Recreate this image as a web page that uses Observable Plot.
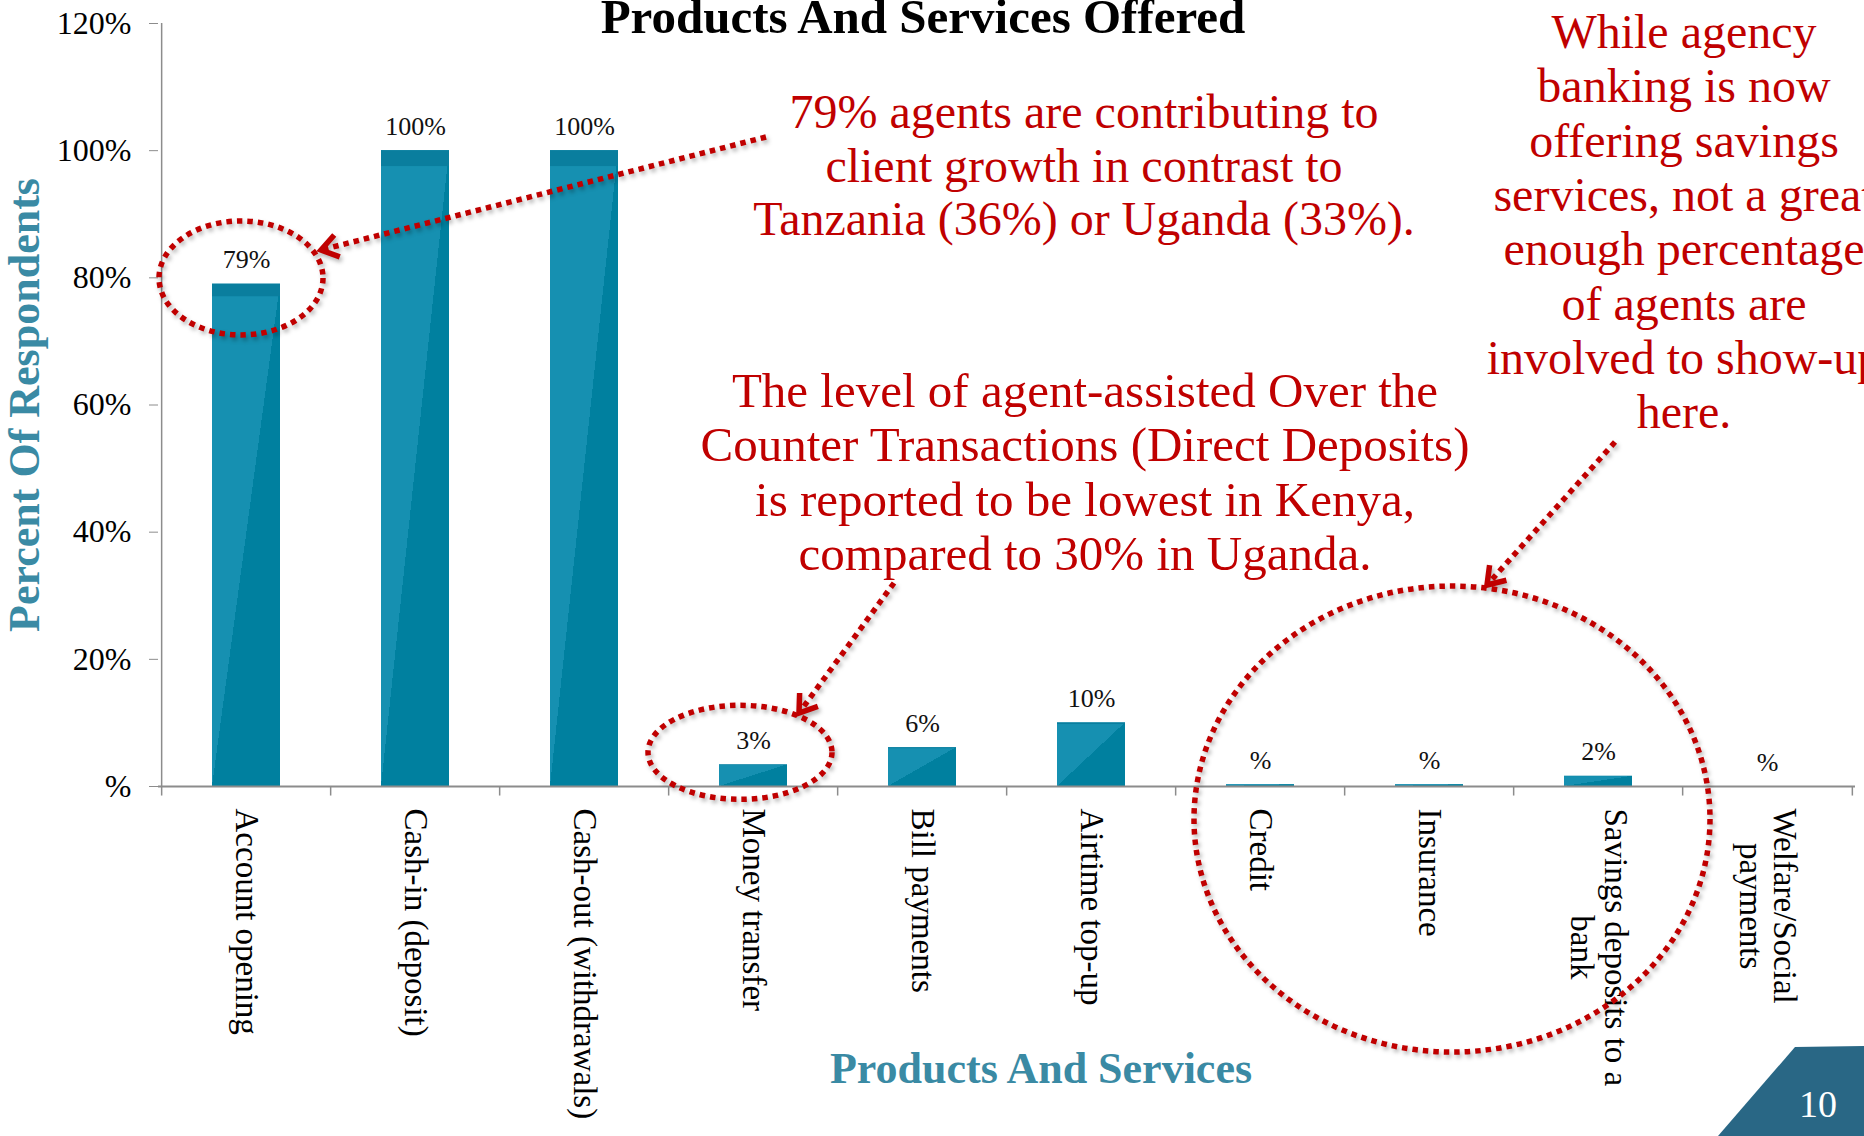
<!DOCTYPE html>
<html>
<head>
<meta charset="utf-8">
<script src="https://cdn.jsdelivr.net/npm/d3@7"></script>
<script src="https://cdn.jsdelivr.net/npm/@observablehq/plot@0.6"></script>
<style>
  html, body { margin: 0; padding: 0; background: #fff; overflow: hidden; }
  #wrap { position: relative; width: 1864px; height: 1136px; overflow: hidden; }
  #wrap svg { display: block; }
</style>
</head>
<body>
<div id="wrap"></div>
<script>
// ---------- data ----------
const categories = [
  "Account opening", "Cash-in (deposit)", "Cash-out (withdrawals)", "Money transfer",
  "Bill payments", "Airtime top-up", "Credit", "Insurance",
  "Savings deposits to a bank", "Welfare/Social payments"
];
const tickLabels = [
  "Account opening", "Cash-in (deposit)", "Cash-out (withdrawals)", "Money transfer",
  "Bill payments", "Airtime top-up", "Credit", "Insurance",
  "Savings deposits to a\nbank", "Welfare/Social\npayments"
];
const values = [79, 100, 100, 3.4, 6.1, 10, 0.3, 0.3, 1.6, 0];
const yTicks = [0, 20, 40, 60, 80, 100, 120];

const chartTitle = "Products And Services Offered";
const yTitle = "Percent Of Respondents";
const xTitle = "Products And Services";
const noteA = ["79% agents are contributing to", "client growth in contrast to", "Tanzania (36%) or Uganda (33%)."];
const noteB = ["The level of agent-assisted Over the", "Counter Transactions (Direct Deposits)", "is reported to be lowest in Kenya,", "compared to 30% in Uganda."];
const noteC = ["While agency", "banking is now", "offering savings", "services, not a great", "enough percentage", "of agents are", "involved to show-up", "here."];
const pageNumber = "10";

// ---------- layout / style ----------
const W = 1864, H = 1136, ML = 158, MR = 9, MT = 23, MB = 350;
const step = (W - ML - MR) / categories.length;
const teal = "#3a8aa4";
const red = "#c00000";
const axisGray = "#8c8c8c";
const font = '"Liberation Serif", "Times New Roman", serif';
const fmt = v => Math.round(v) === 0 ? "%" : Math.round(v) + "%";

const data = categories.map((c, i) => ({category: c, value: values[i], label: tickLabels[i]}));

const chart = Plot.plot({
  width: W, height: H,
  marginLeft: ML, marginRight: MR, marginTop: MT, marginBottom: MB,
  style: {fontFamily: font, background: "white", overflow: "visible"},
  x: {type: "band", domain: categories, paddingInner: 0.6, paddingOuter: 0.3, axis: null},
  y: {domain: [0, 120]},
  marks: [
    Plot.ruleX([categories[0]], {x: d => d, dx: -step / 2, y1: 0, y2: 120, stroke: axisGray, strokeWidth: 1.5}),
    Plot.axisY({ticks: yTicks, tickFormat: fmt, tickSize: 9, tickPadding: 18, stroke: axisGray, fill: "#000", fontSize: 32, fontFamily: font, label: null}),
    Plot.barY(data, {x: "category", y: "value", fill: "url(#barGrad)"}),
    Plot.barY(data, {x: "category", y1: d => d.value * 0.975, y2: "value", fill: "#0a7e9e"}),
    Plot.ruleY([0], {stroke: axisGray, strokeWidth: 2}),
    Plot.ruleX(categories, {x: d => d, dx: -step / 2, y1: 0, y2: -1.5, stroke: axisGray, strokeWidth: 1.5}),
    Plot.ruleX(categories.slice(-1), {x: d => d, dx: step / 2, y1: 0, y2: -1.5, stroke: axisGray, strokeWidth: 1.5}),
    Plot.text(data, {x: "category", y: "value", text: d => fmt(d.value), dy: -16, lineAnchor: "bottom", fontSize: 26, fill: "#111", fontFamily: font}),
    Plot.text(data, {x: "category", frameAnchor: "bottom", text: "label", rotate: 90, textAnchor: "start", lineAnchor: "middle", lineHeight: 1.03, dy: 22, fontSize: 33, fill: "#000", fontFamily: font}),
    Plot.text([yTitle], {frameAnchor: "left", text: d => d, dx: -134, rotate: -90, textAnchor: "middle", fontSize: 44, fontWeight: "bold", fill: teal, fontFamily: font}),
    Plot.text([xTitle], {frameAnchor: "bottom", text: d => d, dx: 34, dy: 296, textAnchor: "middle", fontSize: 44, fontWeight: "bold", fill: teal, fontFamily: font})
  ]
});

document.getElementById("wrap").appendChild(chart);
const svg = d3.select(chart);

// gradient for bars (light upper-left / dark lower-right)
const defs = svg.insert("defs", ":first-child");
const grad = defs.append("linearGradient").attr("id", "barGrad")
  .attr("x1", 0).attr("y1", 0).attr("x2", 1).attr("y2", 1);
grad.append("stop").attr("offset", 0).attr("stop-color", "#1690b1");
grad.append("stop").attr("offset", 0.5).attr("stop-color", "#1690b1");
grad.append("stop").attr("offset", 0.5).attr("stop-color", "#00809f");
grad.append("stop").attr("offset", 1).attr("stop-color", "#00809f");

// center the lines of multi-line category labels on each other (rotated 90° labels)
svg.selectAll("text").each(function() {
  const tr = this.getAttribute("transform") || "";
  if (!/rotate\(90\)/.test(tr)) return;
  const spans = Array.from(this.querySelectorAll("tspan"));
  if (spans.length > 1) {
    let L = 0;
    spans.forEach(s => { L = Math.max(L, s.getComputedTextLength()); });
    this.setAttribute("text-anchor", "middle");
    spans.forEach(s => { s.setAttribute("x", L / 2); s.setAttribute("text-anchor", "middle"); });
  }
});

// ---------- annotations ----------
const xs = chart.scale("x"), ys = chart.scale("y");
const xc = c => xs.apply(c) + xs.bandwidth / 2;
const ann = svg.append("g").style("filter", "drop-shadow(2px 3px 2px rgba(0,0,0,0.3))");

const ellipses = [
  {cx: xc("Account opening") - 5, cy: ys.apply(79.9), rx: 82, ry: 57},
  {cx: xc("Money transfer") - 13, cy: ys.apply(5.3), rx: 92, ry: 47},
  {cx: xc("Insurance") + 23, cy: ys.apply(-5.2), rx: 258, ry: 233}
];
ann.selectAll("ellipse").data(ellipses).join("ellipse")
  .attr("cx", d => d.cx).attr("cy", d => d.cy).attr("rx", d => d.rx).attr("ry", d => d.ry)
  .attr("fill", "none").attr("stroke", red).attr("stroke-width", 5.5).attr("stroke-dasharray", "5.5 5");

const arrows = [
  {x1: 766, y1: 137, x2: 321, y2: 250},
  {x1: 894, y1: 583, x2: 799, y2: 713},
  {x1: 1615, y1: 442, x2: 1487, y2: 585}
];
arrows.forEach(a => {
  ann.append("line").attr("x1", a.x1).attr("y1", a.y1).attr("x2", a.x2).attr("y2", a.y2)
    .attr("stroke", red).attr("stroke-width", 5.5).attr("stroke-dasharray", "5.5 5");
  const dx = a.x2 - a.x1, dy = a.y2 - a.y1, len = Math.hypot(dx, dy);
  const ux = dx / len, uy = dy / len, L = 20, ang = 0.6;
  const p = s => {
    const c = Math.cos(s * ang), sn = Math.sin(s * ang);
    const rx = ux * c - uy * sn, ry = ux * sn + uy * c;
    return [a.x2 - L * rx, a.y2 - L * ry];
  };
  ann.append("polyline").attr("points", [p(1), [a.x2, a.y2], p(-1)].map(q => q.join(",")).join(" "))
    .attr("fill", "none").attr("stroke", red).attr("stroke-width", 5.5).attr("stroke-linejoin", "miter");
});

function note(lines, cx, y0, size, lh) {
  const t = svg.append("text").attr("text-anchor", "middle").attr("fill", red)
    .attr("font-family", font).attr("font-size", size);
  lines.forEach((s, i) => t.append("tspan").attr("x", cx).attr("y", y0 + i * lh).text(s));
}
note(noteA, 1084, 128, 48, 53.5);
note(noteB, 1085, 407, 49, 54.3);
note(noteC, 1684, 48, 48, 54.3);

// title
svg.append("text").attr("x", 923).attr("y", 33).attr("text-anchor", "middle")
  .attr("font-family", font).attr("font-weight", "bold").attr("font-size", 49).attr("fill", "#000")
  .text(chartTitle);

// page number badge
svg.append("polygon").attr("points", "1718,1136 1795,1047 1864,1046 1864,1136").attr("fill", "#296785");
svg.append("text").attr("x", 1818).attr("y", 1117).attr("text-anchor", "middle")
  .attr("font-family", font).attr("font-size", 38).attr("fill", "#fff").text(pageNumber);
</script>
</body>
</html>
